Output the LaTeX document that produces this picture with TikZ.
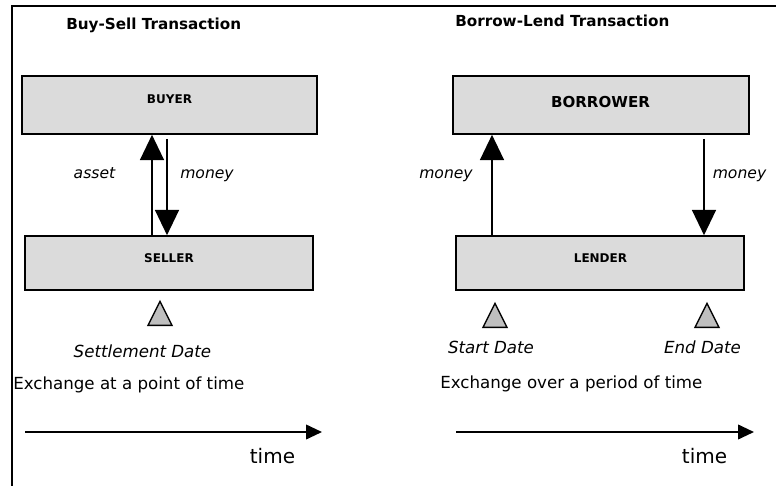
\documentclass[tikz,border=0pt]{standalone}
\usepackage{fontspec}
\setmainfont{DejaVu Sans}
\usetikzlibrary{arrows.meta,shapes.geometric,fit}

\begin{document}
\begin{tikzpicture}[x=0.75pt,y=-0.75pt,
    party/.style={draw,line width=1.2pt,fill=black!14,inner sep=0pt},
    partylbl/.style={font=\bfseries\fontsize{9}{10}\selectfont,anchor=base,inner sep=0pt},
    flow/.style={line width=1.2pt,-{Triangle[width=18pt,length=19pt]}},
    note/.style={font=\itshape\fontsize{11.7}{13}\selectfont,anchor=base,inner sep=0pt},
    datemark/.style={draw,line width=1pt,fill=black!25,isosceles triangle,isosceles triangle stretches,
      shape border rotate=90,minimum width=18pt,minimum height=18pt,inner sep=0pt,anchor=south},
    datelbl/.style={font=\itshape\fontsize{12.5}{14}\selectfont,anchor=base,inner sep=0pt},
    remark/.style={font=\fontsize{12.5}{14}\selectfont,anchor=base west,inner sep=0pt},
    timelbl/.style={font=\fontsize{15}{17}\selectfont,anchor=base,inner sep=0pt},
    timeline/.style={line width=1.4pt,-{Triangle[width=11pt,length=12pt]}},
    heading/.style={font=\bfseries\fontsize{11.4}{13}\selectfont,anchor=base west,inner sep=0pt}]
    \useasboundingbox (0,0) rectangle (776,486);
    \draw[line width=1pt] (12,486) -- (12,6) -- (776,6);

    % buy-sell side
    \node[heading] (bstitle) at (66,29.5) {Buy-Sell Transaction};
    \node[party,fit={(22,76) (317,134)}] (buyer) {};
    \node[party,fit={(25,236) (313,290)}] (seller) {};
    \node[partylbl] (buyerlbl) at (169.5,103) {BUYER};
    \node[partylbl] (sellerlbl) at (169,262) {SELLER};
    \coordinate (ax) at (152,0);
    \coordinate (mx) at (167,0);
    \draw[flow] (seller.north -| ax) -- (buyer.south -| ax);
    \draw[flow,shorten <=3pt] (buyer.south -| mx) -- (seller.north -| mx);
    \node[note] (asset) at (94.5,178) {asset};
    \node[note] (money1) at (207,178) {money};
    \node[datemark] (settle) at (160,326) {};
    \node[datelbl] (settlelbl) at (142.5,357) {Settlement Date};
    \node[remark] (pointlbl) at (13,389) {Exchange at a point of time};
    \coordinate (t1a) at (25,432);
    \coordinate (t1b) at (322,432);
    \draw[timeline] (t1a) -- (t1b);
    \node[timelbl] (time1) at (272.5,463) {time};

    % borrow-lend side
    \node[heading] (bltitle) at (455,26) {Borrow-Lend Transaction};
    \node[party,fit={(453,76) (749,134)}] (borrower) {};
    \node[party,fit={(456,236) (744,290)}] (lender) {};
    \node[partylbl,font=\bfseries\fontsize{11.3}{13}\selectfont] (borrowerlbl) at (600.5,107) {BORROWER};
    \node[partylbl] (lenderlbl) at (600.5,262) {LENDER};
    \coordinate (ux) at (492,0);
    \coordinate (dx) at (704,0);
    \draw[flow] (lender.north -| ux) -- (borrower.south -| ux);
    \draw[flow,shorten <=3pt] (borrower.south -| dx) -- (lender.north -| dx);
    \node[note] (money2) at (446,178) {money};
    \node[note] (money3) at (739.5,178) {money};
    \foreach \x/\n in {495/start,707/end}
      \node[datemark] (\n) at (\x,328) {};
    \node[datelbl] (startlbl) at (491,353) {Start Date};
    \node[datelbl] (endlbl) at (702.5,353) {End Date};
    \node[remark] (periodlbl) at (440,388) {Exchange over a period of time};
    \coordinate (t2a) at (456,432);
    \coordinate (t2b) at (754,432);
    \draw[timeline] (t2a) -- (t2b);
    \node[timelbl] (time2) at (704.5,463) {time};
\end{tikzpicture}
\end{document}
